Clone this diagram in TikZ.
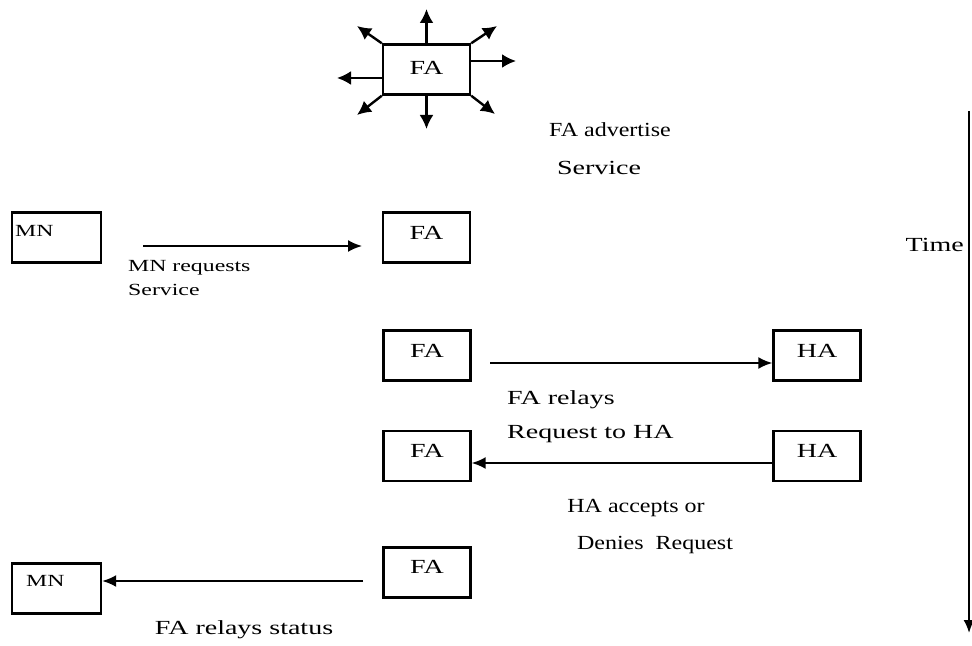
\documentclass[tikz,border=0pt]{standalone}
\usepackage{fontspec}
\setmainfont{Liberation Serif}[FakeStretch=1.4]
\newfontfamily\narrowserif{Liberation Serif}[FakeStretch=1.2]
\usetikzlibrary{arrows.meta}
\begin{document}
\begin{tikzpicture}[x=1bp,y=-1bp,
  box/.style={draw, line width=2.4bp, minimum width=87bp, minimum height=50bp, inner sep=0pt},
  boxtxt/.style={font=\fontsize{20bp}{22bp}\selectfont, inner sep=0pt},
  caption/.style={font=\fontsize{20bp}{22bp}\selectfont, inner sep=0pt},
  narrowcap/.style={font=\narrowserif\fontsize{20bp}{22bp}\selectfont, inner sep=0pt},
  smallcap/.style={font=\fontsize{17bp}{19bp}\selectfont, inner sep=0pt, anchor=west},
  mntxt/.style={font=\fontsize{17bp}{19bp}\selectfont, inner sep=0pt, anchor=base west},
  msg/.style={line width=2bp, -{Latex[length=14bp,width=12bp]}},
  ray/.style={line width=2.4bp, -{Latex[length=14bp,width=14bp]}}
]
\useasboundingbox (0,0) rectangle (972,646);

% broadcasting foreign agent
\node[box] (fa0) at (426.5,69.5) {};
\node[boxtxt] at (426.5,68) {FA};
\coordinate (r0n) at (426.5,9);
\coordinate (r0s) at (426.5,129);
\coordinate (r0e) at (516,61);
\coordinate (r0w) at (337,78);
\coordinate (r0ne) at (497,26);
\coordinate (r0nw) at (357,26);
\coordinate (r0se) at (495,114);
\coordinate (r0sw) at (357,115);
\draw[ray] (fa0.north) -- (r0n);
\draw[ray] (fa0.south) -- (r0s);
\draw[ray] (fa0.east |- r0e) -- (r0e);
\draw[ray] (fa0.west |- r0w) -- (r0w);
\draw[ray] (fa0.north east) -- (r0ne);
\draw[ray] (fa0.north west) -- (r0nw);
\draw[ray] (fa0.south east) -- (r0se);
\draw[ray] (fa0.south west) -- (r0sw);
\node[narrowcap] (adv1) at (610,130) {FA advertise};
\node[caption] (adv2) at (599,168) {Service};

% mobile node requests service
\node[box, minimum width=89bp] (mn1) at (56.5,237.5) {};
\node[mntxt] at (15,237) {MN};
\node[box] (fa1) at (426.5,237.5) {};
\node[boxtxt] at (426.5,233) {FA};
\coordinate (m1s) at (143,246);
\coordinate (m1e) at (362,246);
\draw[msg] (m1s) -- (m1e);
\node[smallcap] (req1) at (128,268) {MN requests};
\node[smallcap] (req2) at (128,290) {Service};

% foreign agent relays to home agent
\node[box] (fa2) at (427,355.5) {};
\node[boxtxt] at (427,351) {FA};
\node[box] (ha2) at (817,355.5) {};
\node[boxtxt] at (817,351) {HA};
\coordinate (m2s) at (490,363);
\draw[msg] (m2s) -- (ha2.west |- m2s);
\node[caption, anchor=west] (rel1) at (507,400) {FA relays};
\node[caption, anchor=west] (rel2) at (507,434) {Request to HA};

% home agent answers
\node[box] (fa3) at (427,456) {};
\node[boxtxt] at (427,451) {FA};
\node[box] (ha3) at (817,456) {};
\node[boxtxt] at (817,451) {HA};
\coordinate (m3) at (0,463);
\draw[msg] (ha3.west |- m3) -- (fa3.east |- m3);
\node[narrowcap] (acc1) at (636,508) {HA accepts or};
\node[narrowcap] (acc2) at (655,545) {Denies\ \ Request};

% status back to mobile node
\node[box] (fa4) at (427,572.5) {};
\node[boxtxt] at (427,567) {FA};
\node[box, minimum width=89bp] (mn2) at (56.5,588.5) {};
\node[mntxt] at (26,586) {MN};
\coordinate (m4s) at (363,581);
\draw[msg] (m4s) -- (mn2.east |- m4s);
\node[caption] (stat) at (244,630) {FA relays status};

% time axis
\coordinate (t0) at (969,111);
\coordinate (t1) at (969,633);
\draw[line width=2bp, -{Latex[length=13bp,width=11bp]}] (t0) -- (t1);
\node[caption, anchor=east] (time) at (964,245) {Time};
\end{tikzpicture}
\end{document}
